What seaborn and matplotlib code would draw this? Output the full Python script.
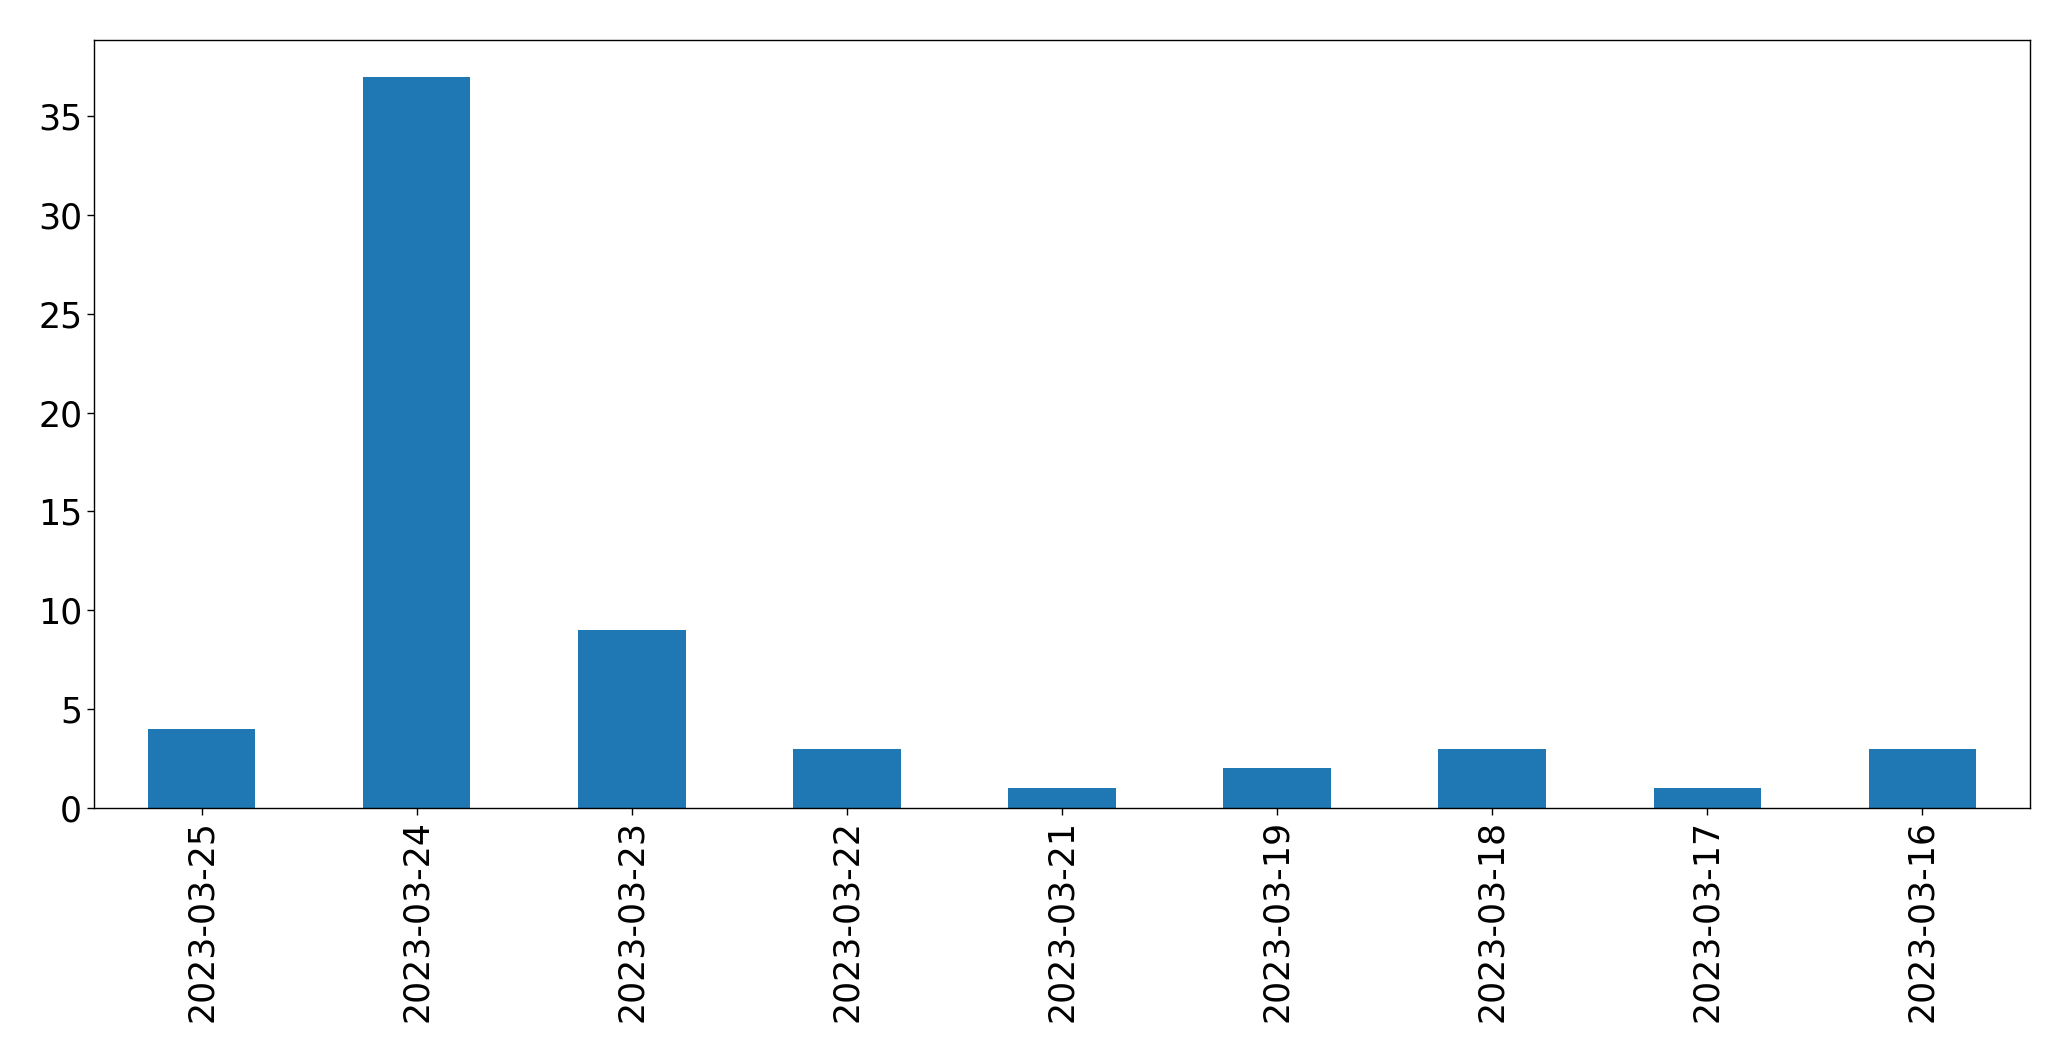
import matplotlib
matplotlib.use("Agg")
import matplotlib.pyplot as plt
import seaborn as sns
import pandas as pd

dates = ["2023-03-25", "2023-03-24", "2023-03-23", "2023-03-22", "2023-03-21",
         "2023-03-19", "2023-03-18", "2023-03-17", "2023-03-16"]
counts = [4, 37, 9, 3, 1, 2, 3, 1, 3]

df = pd.DataFrame({"date": dates, "count": counts})

sns.set_style("ticks")
plt.rcParams['font.family'] = ['DejaVu Sans']
plt.rcParams['text.color'] = 'black'
plt.rcParams['xtick.color'] = 'black'
plt.rcParams['ytick.color'] = 'black'
plt.rcParams['axes.edgecolor'] = 'black'

fig = plt.figure(figsize=(20.71, 10.61), dpi=100)
ax = fig.add_axes([94/2071, 1 - 808/1061, (2030-94)/2071, (808-40)/1061])
sns.barplot(data=df, x="date", y="count", order=dates, color="#1f77b4",
            saturation=1, width=0.5, linewidth=0, ax=ax)
ax.set_xlim(-0.5, len(dates) - 0.5)
ax.set_ylim(0, max(counts) * 1.05)
ax.set_xlabel("")
ax.set_ylabel("")
ax.tick_params(axis="both", labelsize=25, length=5, width=1, direction="out",
               colors="black", labelcolor="black")
ax.tick_params(axis="x", labelrotation=90)
for s in ax.spines.values():
    s.set_visible(True)
    s.set_linewidth(1)
    s.set_color("black")
fig.savefig("out.png", dpi=100)
